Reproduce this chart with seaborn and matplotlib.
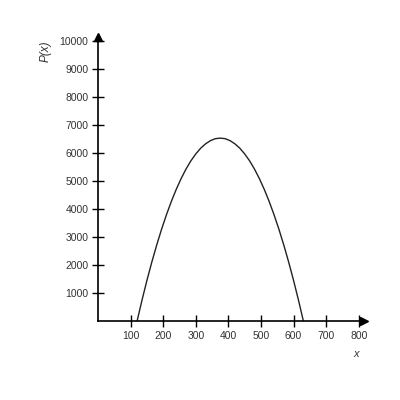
import pandas as pd
import matplotlib.pyplot as plt
import seaborn as sns

# Profit curve
x_vals = [120, 135, 150, 165, 180, 195, 210, 225, 240, 255, 270, 285, 300, 315, 330, 345, 360, 375,
          390, 405, 420, 435, 450, 465, 480, 495, 510, 525, 540, 555, 570, 585, 600, 615, 630]
p_vals = [0, 745, 1445, 2100, 2710, 3275, 3795, 4270, 4700, 5085, 5425, 5720, 5965, 6170, 6325, 6440, 6510, 6530,
          6510, 6440, 6325, 6170, 5965, 5720, 5425, 5085, 4700, 4270, 3795, 3275, 2710, 2100, 1445, 745, 0]
x_ticks = [100, 200, 300, 400, 500, 600, 700, 800]
y_ticks = [1000, 2000, 3000, 4000, 5000, 6000, 7000, 8000, 9000, 10000]

df = pd.DataFrame({'x': x_vals, 'P': p_vals})

sns.set_style('white')
plt.rcParams['font.family'] = ['Liberation Sans', 'DejaVu Sans']

fig = plt.figure(figsize=(4, 4), dpi=100)
ax = fig.add_axes([0.245, 0.1975, 0.665, 0.71])

sns.lineplot(data=df, x='x', y='P', color='#222222', linewidth=1.0, ax=ax)

ax.set_xlim(0, 816)
ax.set_ylim(0, 10140)
ax.set_xticks(x_ticks)
ax.set_yticks(y_ticks)
ax.tick_params(bottom=True, left=True, direction='inout', length=8, width=1, color='black',
               labelsize=7.5, labelcolor='#333333', pad=3)

for s in ['top', 'right']:
    ax.spines[s].set_visible(False)
for s in ['left', 'bottom']:
    ax.spines[s].set_color('black')
    ax.spines[s].set_linewidth(1.2)

# arrow heads at the axis ends
ax.plot(1, 0, '>', color='black', markersize=6, transform=ax.transAxes, clip_on=False)
ax.plot(0, 1, '^', color='black', markersize=6, transform=ax.transAxes, clip_on=False)

ax.set_xlabel('')
ax.set_ylabel('')
fig.text(0.89, 0.108, 'x', fontsize=8, style='italic', color='#333333', ha='center')
fig.text(0.113, 0.872, 'P(x)', fontsize=8.5, style='italic', color='#333333', rotation=90,
         ha='center', va='center')

fig.savefig('out.png', dpi=100)
